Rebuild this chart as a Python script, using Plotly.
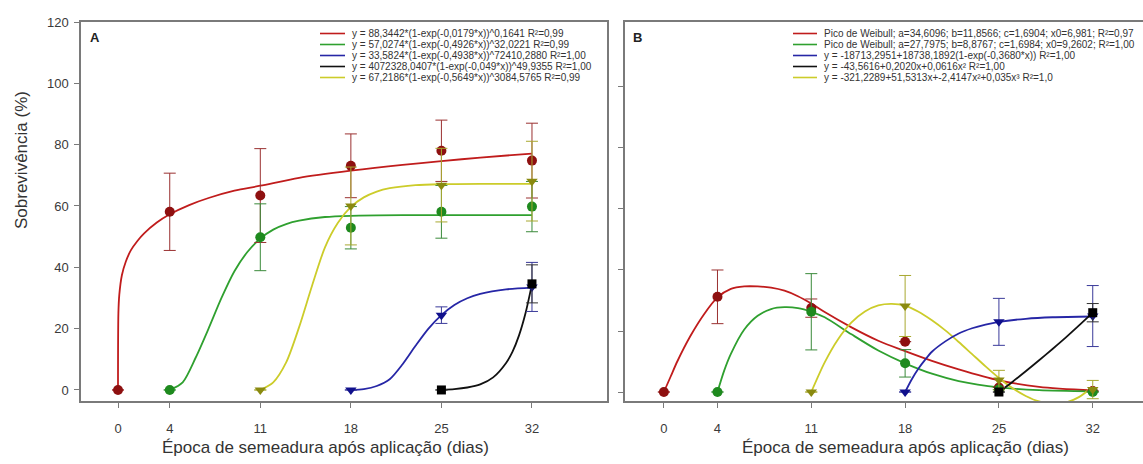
import plotly.graph_objects as go

W, H = 1143, 464
FONT = "Liberation Sans, Arial, sans-serif"

# ---------------- Panel A data (markers + error bars) ----------------
a_red_x = [0, 4, 11, 18, 25, 32]
a_red_y = [0, 58.1, 63.4, 73.1, 78.0, 74.8]
a_red_e = [0, 12.6, 15.3, 10.4, 10.0, 12.2]

a_green_x = [4, 11, 18, 25, 32]
a_green_y = [0, 49.8, 52.9, 58.1, 59.8]
a_green_e = [0, 10.9, 6.9, 8.6, 8.2]

a_olive_x = [11, 18, 25, 32]
a_olive_y = [0, 60.0, 66.8, 68.1]
a_olive_e = [0, 12.7, 12.0, 13.0]

a_blue_x = [18, 25, 32]
a_blue_y = [0, 24.4, 33.6]
a_blue_e = [0, 2.7, 8.0]

a_black_x = [25, 32]
a_black_y = [0, 34.6]
a_black_e = [0, 6.2]

# fitted curves
a_red_cx = [0, 0.03, 0.1, 0.3, 0.6, 1, 1.5, 2, 3, 4, 5.5, 7, 9, 11, 14, 18, 22, 25, 28, 32]
a_red_cy = [0, 25, 31, 37.4, 41.8, 45.6, 48.6, 51, 54.6, 57.3, 60.3, 62.6, 65, 66.6, 69.2, 71.5, 73.4, 74.6, 75.8, 77.1]
a_green_cx = [4, 5, 6, 7, 8, 9, 10, 11, 12, 13, 14, 16, 18, 22, 26, 32]
a_green_cy = [0, 2.5, 10.5, 20, 30, 38.7, 45, 49.4, 52.3, 54.1, 55.2, 56.4, 56.8, 57, 57, 57]
a_olive_cx = [11, 12, 13, 14, 15, 16, 17, 18, 19, 20, 21, 23, 25, 28, 32]
a_olive_cy = [0, 2.5, 9, 20.5, 34, 46.5, 54.5, 59.7, 62.8, 64.7, 65.8, 66.8, 67.1, 67.2, 67.2]
a_blue_cx = [18, 19, 20, 21, 22, 23, 24, 25, 26, 27, 28, 30, 32]
a_blue_cy = [0, 0.3, 1.3, 3.5, 8.4, 14.4, 20, 24.4, 27.7, 29.9, 31.3, 32.8, 33.4]
a_black_cx = [25, 26, 27, 28, 29, 30, 30.5, 31, 31.5, 32]
a_black_cy = [0.1, 0.3, 0.8, 1.8, 4.1, 8.8, 12.5, 17.8, 25, 34.5]

# ---------------- Panel B data ----------------
b_red_x = [0, 4, 11, 18, 25, 32]
b_red_y = [0, 31.2, 27.5, 16.5, 1.5, 0.3]
b_red_e = [0, 8.8, 3.0, 0, 0, 0]

b_green_x = [4, 11, 18, 25, 32]
b_green_y = [0, 26.3, 9.4, 0.8, 0]
b_green_e = [0, 12.5, 4.5, 0, 0]

b_olive_x = [11, 18, 25, 32]
b_olive_y = [0, 28.2, 3.9, 0.8]
b_olive_e = [0, 10.0, 3.2, 3.0]

b_blue_x = [18, 25, 32]
b_blue_y = [0, 23.0, 24.9]
b_blue_e = [0, 7.7, 10.0]

b_black_x = [25, 32]
b_black_y = [0, 26.0]
b_black_e = [0, 3.0]

b_red_cx = [0, 0.5, 1, 2, 3, 4, 5, 6, 7, 8, 9, 10, 11, 12, 14, 16, 18, 20, 22, 25, 28, 32]
b_red_cy = [0, 5, 10, 18.5, 25.5, 31, 33.8, 34.6, 34.6, 34.2, 33.2, 31.4, 29, 26.2, 21.2, 16.8, 13.4, 10.2, 7.4, 3.8, 1.7, 0.5]
b_green_cx = [4, 4.5, 5, 6, 7, 8, 9, 10, 11, 12, 14, 16, 18, 20, 22, 25, 28, 32]
b_green_cy = [0, 7, 12.5, 20.5, 25, 27.2, 27.8, 27.5, 26.3, 24.5, 18.9, 13.6, 9.4, 6, 3.6, 1.5, 0.6, 0.2]
b_olive_cx = [11, 12, 13, 14, 15, 16, 17, 18, 19, 20, 21, 22, 23, 24, 25, 26, 27, 28, 29, 30, 31, 32]
b_olive_cy = [0, 9.7, 17.3, 22.8, 26.4, 28.4, 28.9, 28.3, 26.3, 23.5, 20.2, 16.4, 12.4, 8.4, 4.6, 1.3, -1.3, -3.1, -3.7, -3.4, -1.6, 1.8]
b_blue_cx = [18, 18.5, 19, 19.5, 20, 21, 22, 23, 24, 25, 27, 29, 32]
b_blue_cy = [0, 4.2, 7.7, 10.6, 13.2, 16.6, 19.2, 20.9, 22.1, 23, 24, 24.5, 24.75]
b_black_cx = [25, 26, 27, 28, 29, 30, 31, 32]
b_black_cy = [0, 3.3, 6.8, 10.4, 14.1, 17.9, 21.9, 26]

x_ticks = [0, 4, 11, 18, 25, 32]
y_ticks = [0, 20, 40, 60, 80, 100, 120]

legend_a = [
    "y = 88,3442*(1-exp(-0,0179*x))^0,1641 R²=0,99",
    "y = 57,0274*(1-exp(-0,4926*x))^32,0221 R²=0,99",
    "y = 33,5824*(1-exp(-0,4938*x))^72410,2880 R²=1,00",
    "y = 4072328,0407*(1-exp(-0,049*x))^49,9355 R²=1,00",
    "y = 67,2186*(1-exp(-0,5649*x))^3084,5765 R²=0,99",
]
legend_b = [
    "Pico de Weibull; a=34,6096; b=11,8566; c=1,6904; x0=6,981; R²=0,97",
    "Pico de Weibull; a=27,7975; b=8,8767; c=1,6984; x0=9,2602; R²=1,00",
    "y = -18713,2951+18738,1892(1-exp(-0,3680*x)) R²=1,00",
    "y = -43,5616+0,2020x+0,0616x² R²=1,00",
    "y = -321,2289+51,5313x+-2,4147x²+0,035x³ R²=1,0",
]

# colours
C = {
    "red": dict(mk="#8e1010", ln="#c01c1c", eb="#9a3030"),
    "green": dict(mk="#1e8a1e", ln="#2fa02f", eb="#3a8a3a"),
    "olive": dict(mk="#8a8a10", ln="#cccc2a", eb="#a8a830"),
    "blue": dict(mk="#10108c", ln="#2626a6", eb="#3a3a9a"),
    "black": dict(mk="#000000", ln="#111111", eb="#333333"),
}
SYM = {"red": "circle", "green": "circle", "olive": "triangle-down",
       "blue": "triangle-down", "black": "square"}

fig = go.Figure()


def add_panel(xa, ya, curves, pts, order):
    for name in order:
        cx, cy = curves[name]
        fig.add_trace(go.Scatter(x=cx, y=cy, mode="lines", xaxis=xa, yaxis=ya,
                                 line=dict(color=C[name]["ln"], width=1.8, shape="spline", smoothing=0.8),
                                 showlegend=False, hoverinfo="skip"))
    for name in order:
        px_, py_, pe_ = pts[name]
        fig.add_trace(go.Scatter(x=px_, y=py_, mode="markers", xaxis=xa, yaxis=ya,
                                 marker=dict(symbol=SYM[name], size=10 if SYM[name] != "square" else 9,
                                             color=C[name]["mk"], line=dict(width=0)),
                                 error_y=dict(type="data", array=pe_, visible=True,
                                              color=C[name]["eb"], thickness=1, width=6),
                                 showlegend=False, cliponaxis=False))


order = ["red", "green", "olive", "blue", "black"]
add_panel("x", "y",
          {"red": (a_red_cx, a_red_cy), "green": (a_green_cx, a_green_cy),
           "olive": (a_olive_cx, a_olive_cy), "blue": (a_blue_cx, a_blue_cy),
           "black": (a_black_cx, a_black_cy)},
          {"red": (a_red_x, a_red_y, a_red_e), "green": (a_green_x, a_green_y, a_green_e),
           "olive": (a_olive_x, a_olive_y, a_olive_e), "blue": (a_blue_x, a_blue_y, a_blue_e),
           "black": (a_black_x, a_black_y, a_black_e)}, order)
add_panel("x2", "y2",
          {"red": (b_red_cx, b_red_cy), "green": (b_green_cx, b_green_cy),
           "olive": (b_olive_cx, b_olive_cy), "blue": (b_blue_cx, b_blue_cy),
           "black": (b_black_cx, b_black_cy)},
          {"red": (b_red_x, b_red_y, b_red_e), "green": (b_green_x, b_green_y, b_green_e),
           "olive": (b_olive_x, b_olive_y, b_olive_e), "blue": (b_blue_x, b_blue_y, b_blue_e),
           "black": (b_black_x, b_black_y, b_black_e)}, order)


def px(x):
    return x / W


def py(y):
    return 1 - y / H


AX = "#7a7a7a"
TICKF = dict(family=FONT, size=13, color="#3a3a3a")
common_x = dict(tickmode="array", tickvals=x_ticks, ticks="outside", ticklen=5, tickcolor=AX,
                showline=True, linecolor=AX, linewidth=1.5, showgrid=False, zeroline=False,
                tickfont=TICKF, ticklabelstandoff=10, automargin=False)

fig.update_layout(
    width=W, height=H, margin=dict(l=0, r=0, t=0, b=0),
    paper_bgcolor="white", plot_bgcolor="white",
    font=dict(family=FONT, color="#333333"),
    xaxis=dict(domain=[px(81), px(607)], range=[-2.86, 37.8], anchor="y", mirror=True, **common_x),
    yaxis=dict(domain=[py(401), py(22)], range=[-3.6, 120], anchor="x", tickmode="array",
               tickvals=y_ticks, ticks="outside", ticklen=5, tickcolor=AX, showline=True,
               linecolor=AX, linewidth=1.5, mirror=True, showgrid=False, zeroline=False,
               tickfont=TICKF, ticklabelstandoff=3, automargin=False),
    xaxis2=dict(domain=[px(625), 1.0], range=[-2.9, 35.75], anchor="y2", mirror=True, **common_x),
    yaxis2=dict(domain=[py(401), py(22)], range=[-2.95, 121.3], anchor="x2", tickmode="array",
                tickvals=y_ticks[:-1], ticks="outside", ticklen=5, tickcolor=AX, showline=True,
                linecolor=AX, linewidth=1.5, mirror=False, showgrid=False, zeroline=False,
                showticklabels=False, automargin=False),
)

ann = []
shapes = []
TF = dict(family=FONT, size=17, color="#333333")
# axis titles
ann.append(dict(text="Sobrevivência (%)", x=px(21), y=py(160), xref="paper", yref="paper",
                xanchor="center", yanchor="middle", textangle=-90, showarrow=False, font=TF))
ann.append(dict(text="Época de semeadura após aplicação (dias)", x=px(325), y=py(447),
                xref="paper", yref="paper", xanchor="center", yanchor="middle",
                showarrow=False, font=TF))
ann.append(dict(text="Época de semeadura após aplicação (dias)", x=px(905), y=py(447),
                xref="paper", yref="paper", xanchor="center", yanchor="middle",
                showarrow=False, font=TF))
# panel letters
ann.append(dict(text="<b>A</b>", x=px(95), y=py(38), xref="paper", yref="paper", showarrow=False,
                xanchor="center", yanchor="middle", font=dict(family=FONT, size=13, color="#222222")))
ann.append(dict(text="<b>B</b>", x=px(637), y=py(37), xref="paper", yref="paper", showarrow=False,
                xanchor="center", yanchor="middle", font=dict(family=FONT, size=13, color="#222222")))

# legends
rows = [33.5, 44.5, 55.5, 66.5, 77.5]
leg_cols = ["red", "green", "blue", "black", "olive"]
for i, (lab, cname) in enumerate(zip(legend_a, leg_cols)):
    shapes.append(dict(type="line", xref="paper", yref="paper", x0=px(320), x1=px(345),
                       y0=py(rows[i]), y1=py(rows[i]), line=dict(color=C[cname]["ln"], width=1.6)))
    ann.append(dict(text=lab, x=px(350), y=py(rows[i]), xref="paper", yref="paper",
                    xanchor="left", yanchor="middle", showarrow=False,
                    font=dict(family=FONT, size=10, color="#333333")))
for i, (lab, cname) in enumerate(zip(legend_b, leg_cols)):
    shapes.append(dict(type="line", xref="paper", yref="paper", x0=px(793), x1=px(817),
                       y0=py(rows[i]), y1=py(rows[i]), line=dict(color=C[cname]["ln"], width=1.6)))
    ann.append(dict(text=lab, x=px(822), y=py(rows[i]), xref="paper", yref="paper",
                    xanchor="left", yanchor="middle", showarrow=False,
                    font=dict(family=FONT, size=10, color="#333333")))

fig.update_layout(annotations=ann, shapes=shapes)
fig.write_html("out.html", config={"displayModeBar": False},
               post_script="document.body.style.margin='0';document.body.style.overflow='hidden';")
